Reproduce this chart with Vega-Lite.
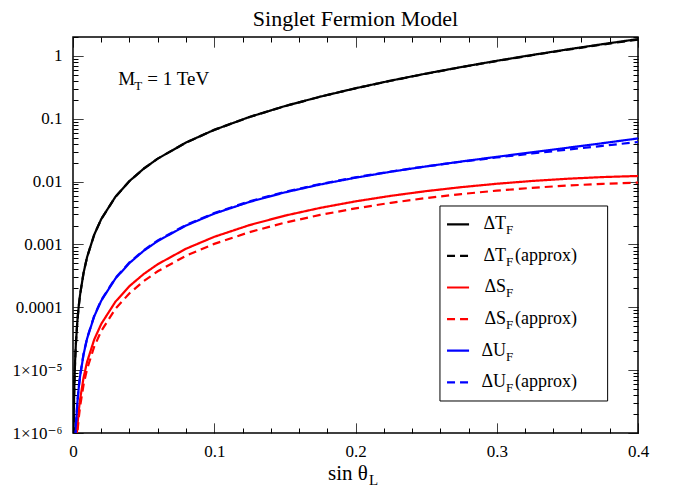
{
  "$schema": "https://vega.github.io/schema/vega-lite/v6.json",
  "width": 565,
  "height": 396,
  "autosize": {"type": "none"},
  "padding": {"left": 73, "top": 37, "right": 38, "bottom": 58},
  "background": "white",
  "config": {
    "font": "Liberation Serif, DejaVu Serif, serif",
    "view": {"stroke": "black", "strokeWidth": 1.5},
    "axis": {"domain": false, "grid": false, "tickColor": "black", "tickWidth": 1, "tickOpacity": 1, "labelColor": "black", "labelFont": "Liberation Serif, DejaVu Serif, serif", "labelFontSize": 17, "labelOverlap": false, "labelFlush": false, "labelBound": false},
    "text": {"font": "Liberation Serif, DejaVu Serif, serif", "color": "black"}
  },
  "datasets": {
    "curves": [
      {"s": 0.0003, "T": 5.7e-7, "Ta": 5.7e-7, "S": 1.22e-8, "Sa": 9.5e-9, "U": 2.87e-8, "Ua": 2.93e-8},
      {"s": 0.0006, "T": 2.28e-6, "Ta": 2.28e-6, "S": 4.9e-8, "Sa": 3.8e-8, "U": 1.15e-7, "Ua": 1.17e-7},
      {"s": 0.001, "T": 6.33e-6, "Ta": 6.33e-6, "S": 1.36e-7, "Sa": 1.05e-7, "U": 3.19e-7, "Ua": 3.26e-7},
      {"s": 0.0015, "T": 1.424e-5, "Ta": 1.424e-5, "S": 3.06e-7, "Sa": 2.36e-7, "U": 7.17e-7, "Ua": 7.33e-7},
      {"s": 0.002, "T": 2.53e-5, "Ta": 2.53e-5, "S": 5.44e-7, "Sa": 4.2e-7, "U": 1.274e-6, "Ua": 1.302e-6},
      {"s": 0.003, "T": 5.7e-5, "Ta": 5.7e-5, "S": 1.224e-6, "Sa": 9.45e-7, "U": 2.867e-6, "Ua": 2.93e-6},
      {"s": 0.004, "T": 1.013e-4, "Ta": 1.013e-4, "S": 2.176e-6, "Sa": 1.68e-6, "U": 5.1e-6, "Ua": 5.21e-6},
      {"s": 0.005, "T": 1.582e-4, "Ta": 1.582e-4, "S": 3.4e-6, "Sa": 2.625e-6, "U": 7.96e-6, "Ua": 8.14e-6},
      {"s": 0.0075, "T": 3.56e-4, "Ta": 3.56e-4, "S": 7.65e-6, "Sa": 5.9e-6, "U": 1.79e-5, "Ua": 1.83e-5},
      {"s": 0.01, "T": 6.33e-4, "Ta": 6.33e-4, "S": 1.36e-5, "Sa": 1.05e-5, "U": 3.185e-5, "Ua": 3.255e-5},
      {"s": 0.015, "T": 1.426e-3, "Ta": 1.426e-3, "S": 3.06e-5, "Sa": 2.36e-5, "U": 7.16e-5, "Ua": 7.32e-5},
      {"s": 0.02, "T": 2.536e-3, "Ta": 2.536e-3, "S": 5.44e-5, "Sa": 4.2e-5, "U": 1.274e-4, "Ua": 1.302e-4},
      {"s": 0.03, "T": 5.72e-3, "Ta": 5.72e-3, "S": 1.224e-4, "Sa": 9.45e-5, "U": 2.859e-4, "Ua": 2.923e-4},
      {"s": 0.04, "T": 0.01021, "Ta": 0.01021, "S": 2.176e-4, "Sa": 1.673e-4, "U": 5.071e-4, "Ua": 5.185e-4},
      {"s": 0.05, "T": 0.01603, "Ta": 0.01603, "S": 3.377e-4, "Sa": 2.607e-4, "U": 7.903e-4, "Ua": 8.08e-4},
      {"s": 0.06, "T": 0.02321, "Ta": 0.02321, "S": 4.85e-4, "Sa": 3.744e-4, "U": 1.134e-3, "Ua": 1.16e-3},
      {"s": 0.08, "T": 0.04185, "Ta": 0.04185, "S": 8.55e-4, "Sa": 6.605e-4, "U": 2.0e-3, "Ua": 2.045e-3},
      {"s": 0.1, "T": 0.06657, "Ta": 0.06657, "S": 1.323e-3, "Sa": 1.022e-3, "U": 3.093e-3, "Ua": 3.163e-3},
      {"s": 0.125, "T": 0.1069, "Ta": 0.1068, "S": 2.035e-3, "Sa": 1.572e-3, "U": 4.76e-3, "Ua": 4.865e-3},
      {"s": 0.15, "T": 0.159, "Ta": 0.1588, "S": 2.873e-3, "Sa": 2.221e-3, "U": 6.737e-3, "Ua": 6.878e-3},
      {"s": 0.175, "T": 0.2246, "Ta": 0.2241, "S": 3.819e-3, "Sa": 2.953e-3, "U": 9.0e-3, "Ua": 9.17e-3},
      {"s": 0.2, "T": 0.3057, "Ta": 0.3047, "S": 4.848e-3, "Sa": 3.752e-3, "U": 0.011537, "Ua": 0.011714},
      {"s": 0.225, "T": 0.4045, "Ta": 0.4028, "S": 5.938e-3, "Sa": 4.598e-3, "U": 0.014347, "Ua": 0.014487},
      {"s": 0.25, "T": 0.5238, "Ta": 0.521, "S": 7.056e-3, "Sa": 5.469e-3, "U": 0.017453, "Ua": 0.017483},
      {"s": 0.275, "T": 0.6664, "Ta": 0.662, "S": 8.167e-3, "Sa": 6.34e-3, "U": 0.020908, "Ua": 0.020709},
      {"s": 0.3, "T": 0.8356, "Ta": 0.829, "S": 9.243e-3, "Sa": 7.182e-3, "U": 0.024806, "Ua": 0.024198},
      {"s": 0.325, "T": 1.0349, "Ta": 1.025, "S": 0.010235, "Sa": 7.966e-3, "U": 0.029287, "Ua": 0.028016},
      {"s": 0.35, "T": 1.2679, "Ta": 1.253, "S": 0.01111, "Sa": 8.661e-3, "U": 0.034554, "Ua": 0.032267},
      {"s": 0.375, "T": 1.5395, "Ta": 1.518, "S": 0.01181, "Sa": 9.229e-3, "U": 0.040884, "Ua": 0.037098},
      {"s": 0.4, "T": 1.853, "Ta": 1.823, "S": 0.01229, "Sa": 9.632e-3, "U": 0.048638, "Ua": 0.042718}
    ],
    "legend": [
      {"key": "T", "main": "ΔT", "sub": "F", "suffix": "", "order": 0},
      {"key": "Ta", "main": "ΔT", "sub": "F", "suffix": "(approx)", "order": 1},
      {"key": "S", "main": "ΔS", "sub": "F", "suffix": "", "order": 2},
      {"key": "Sa", "main": "ΔS", "sub": "F", "suffix": "(approx)", "order": 3},
      {"key": "U", "main": "ΔU", "sub": "F", "suffix": "", "order": 4},
      {"key": "Ua", "main": "ΔU", "sub": "F", "suffix": "(approx)", "order": 5}
    ]
  },
  "layer": [
    {
      "data": {"name": "curves"},
      "transform": [{"fold": ["T"], "as": ["key", "v"]}],
      "mark": {"type": "line", "clip": true},
      "encoding": {
        "x": {"field": "s", "type": "quantitative", "scale": {"domain": [0, 0.4], "nice": false, "zero": false},
          "axis": {"orient": "bottom", "title": null, "labelOverlap": false, "labelFlush": false, "offset": -10, "ticks": true, "tickSize": 10,
            "values": [0, 0.02, 0.04, 0.06, 0.08, 0.1, 0.12, 0.14, 0.16, 0.18, 0.2, 0.22, 0.24, 0.26, 0.28, 0.3, 0.32, 0.34, 0.36, 0.38, 0.4],
            "labelExpr": "abs(datum.value*10 - round(datum.value*10)) < 1e-6 ? (datum.value == 0 ? '0' : format(datum.value, '.1f')) : ''",
            "tickDash": {"condition": {"test": "abs(datum.value*10 - round(datum.value*10)) < 1e-6", "value": [1, 0]}, "value": [0, 5, 5, 0]},
            "labelPadding": 10}},
        "y": {"field": "v", "type": "quantitative", "scale": {"type": "log", "domain": [0.000001, 2], "nice": false},
          "axis": {"orient": "left", "title": null, "labelOverlap": false, "ticks": false, "tickSize": 0,
            "values": [0.000001, 0.00001, 0.0001, 0.001, 0.01, 0.1, 1],
            "labelExpr": "datum.value == 1 ? '1  ' : datum.value == 0.1 ? '0.1' : datum.value == 0.01 ? '0.01' : datum.value == 0.001 ? '0.001' : datum.value == 0.0001 ? '0.0001' : datum.value == 0.00001 ? '1×10⁻⁵' : '1×10⁻⁶'",
            "labelPadding": 11}},
        "color": {"field": "key", "type": "nominal", "scale": {"domain": ["T", "Ta", "S", "Sa", "U", "Ua"], "range": ["#000000", "#000000", "#ff0000", "#ff0000", "#0000ff", "#0000ff"]}, "legend": null},
        "strokeDash": {"field": "key", "type": "nominal", "scale": {"domain": ["T", "Ta", "S", "Sa", "U", "Ua"], "range": [[1, 0], [8, 5], [1, 0], [8, 5], [1, 0], [8, 5]]}, "legend": null},
        "strokeWidth": {"field": "key", "type": "nominal", "scale": {"domain": ["T", "Ta", "S", "Sa", "U", "Ua"], "range": [2.2, 2.2, 1.5, 1.5, 2.2, 2.2]}, "legend": null}
      }
    },
    {
      "data": {"name": "curves"},
      "transform": [{"fold": ["S", "U"], "as": ["key", "v"]}],
      "mark": {"type": "line", "clip": true},
      "encoding": {
        "x": {"field": "s", "type": "quantitative", "scale": {"domain": [0, 0.4], "nice": false, "zero": false}, "axis": null},
        "y": {"field": "v", "type": "quantitative", "scale": {"type": "log", "domain": [0.000001, 2], "nice": false},
          "axis": {"orient": "right", "title": null, "labels": false, "offset": -565, "ticks": true, "tickSize": 10,
            "values": [0.000001, 0.000002, 0.000003, 0.000004, 0.000005, 0.000006, 0.000007, 0.000008, 0.000009, 0.00001, 0.00002, 0.00003, 0.00004, 0.00005, 0.00006, 0.00007, 0.00008, 0.00009, 0.0001, 0.0002, 0.0003, 0.0004, 0.0005, 0.0006, 0.0007, 0.0008, 0.0009, 0.001, 0.002, 0.003, 0.004, 0.005, 0.006, 0.007, 0.008, 0.009, 0.01, 0.02, 0.03, 0.04, 0.05, 0.06, 0.07, 0.08, 0.09, 0.1, 0.2, 0.3, 0.4, 0.5, 0.6, 0.7, 0.8, 0.9, 1, 2],
            "tickDash": {"condition": {"test": "abs(log(datum.value)/LN10 - round(log(datum.value)/LN10)) < 1e-6", "value": [1, 0]}, "value": [5, 100]}}},
        "color": {"field": "key", "type": "nominal", "legend": null},
        "strokeDash": {"field": "key", "type": "nominal", "legend": null},
        "strokeWidth": {"field": "key", "type": "nominal", "legend": null}
      }
    },
    {
      "data": {"name": "curves"},
      "transform": [{"fold": ["Ta", "Sa", "Ua"], "as": ["key", "v"]}],
      "mark": {"type": "line", "clip": true},
      "encoding": {
        "x": {"field": "s", "type": "quantitative", "scale": {"domain": [0, 0.4], "nice": false, "zero": false},
          "axis": {"orient": "bottom", "title": null, "labels": false, "offset": -396, "ticks": true, "tickSize": 10,
            "values": [0, 0.02, 0.04, 0.06, 0.08, 0.1, 0.12, 0.14, 0.16, 0.18, 0.2, 0.22, 0.24, 0.26, 0.28, 0.3, 0.32, 0.34, 0.36, 0.38, 0.4],
            "tickDash": {"condition": {"test": "abs(datum.value*10 - round(datum.value*10)) < 1e-6", "value": [1, 0]}, "value": [5, 100]}}},
        "y": {"field": "v", "type": "quantitative", "scale": {"type": "log", "domain": [0.000001, 2], "nice": false},
          "axis": {"orient": "right", "title": null, "labels": false, "offset": -10, "ticks": true, "tickSize": 10,
            "values": [0.000001, 0.000002, 0.000003, 0.000004, 0.000005, 0.000006, 0.000007, 0.000008, 0.000009, 0.00001, 0.00002, 0.00003, 0.00004, 0.00005, 0.00006, 0.00007, 0.00008, 0.00009, 0.0001, 0.0002, 0.0003, 0.0004, 0.0005, 0.0006, 0.0007, 0.0008, 0.0009, 0.001, 0.002, 0.003, 0.004, 0.005, 0.006, 0.007, 0.008, 0.009, 0.01, 0.02, 0.03, 0.04, 0.05, 0.06, 0.07, 0.08, 0.09, 0.1, 0.2, 0.3, 0.4, 0.5, 0.6, 0.7, 0.8, 0.9, 1, 2],
            "tickDash": {"condition": {"test": "abs(log(datum.value)/LN10 - round(log(datum.value)/LN10)) < 1e-6", "value": [1, 0]}, "value": [0, 5, 5, 0]}}},
        "color": {"field": "key", "type": "nominal", "legend": null},
        "strokeDash": {"field": "key", "type": "nominal", "legend": null},
        "strokeWidth": {"field": "key", "type": "nominal", "legend": null}
      }
    },
    {
      "layer": [
        {
          "data": {"values": [{"box": "legend"}]},
          "mark": {"type": "rect", "fill": "white", "stroke": "black", "strokeWidth": 1},
          "encoding": {
            "x": {"datum": 0.2598, "type": "quantitative", "scale": {"domain": [0, 0.4], "nice": false, "zero": false}, "axis": null},
            "x2": {"datum": 0.3785},
            "y": {"datum": -0.579, "type": "quantitative", "scale": {"domain": [-5.927, 6.605], "reverse": true, "nice": false, "zero": false}, "axis": null},
            "y2": {"datum": 5.592}
          }
        },
        {
          "data": {"name": "legend"},
          "mark": {"type": "rule"},
          "encoding": {
            "x": {"datum": 0.2648, "type": "quantitative"},
            "x2": {"datum": 0.2804},
            "y": {"field": "order", "type": "quantitative"},
            "color": {"field": "key", "type": "nominal", "legend": null},
            "strokeDash": {"field": "key", "type": "nominal", "legend": null},
            "strokeWidth": {"field": "key", "type": "nominal", "legend": null}
          }
        },
        {
          "data": {"name": "legend"},
          "mark": {"type": "text", "align": "right", "baseline": "middle", "fontSize": 18},
          "encoding": {"x": {"datum": 0.3066, "type": "quantitative"}, "y": {"field": "order", "type": "quantitative"}, "text": {"field": "main"}}
        },
        {
          "data": {"name": "legend"},
          "mark": {"type": "text", "align": "left", "baseline": "middle", "fontSize": 13, "dy": 6},
          "encoding": {"x": {"datum": 0.3066, "type": "quantitative"}, "y": {"field": "order", "type": "quantitative"}, "text": {"field": "sub"}}
        },
        {
          "data": {"name": "legend"},
          "mark": {"type": "text", "align": "left", "baseline": "middle", "fontSize": 18, "dx": 9},
          "encoding": {"x": {"datum": 0.3066, "type": "quantitative"}, "y": {"field": "order", "type": "quantitative"}, "text": {"field": "suffix"}}
        },
        {
          "data": {"values": [{"t": "Singlet Fermion Model"}]},
          "mark": {"type": "text", "align": "center", "baseline": "alphabetic", "fontSize": 22, "dy": -11},
          "encoding": {"x": {"datum": 0.2, "type": "quantitative"}, "y": {"datum": -5.927, "type": "quantitative"}, "text": {"field": "t"}}
        },
        {
          "data": {"values": [{"t": "M"}]},
          "mark": {"type": "text", "align": "left", "baseline": "alphabetic", "fontSize": 19},
          "encoding": {"x": {"datum": 0.0321, "type": "quantitative"}, "y": {"datum": -4.408, "type": "quantitative"}, "text": {"field": "t"}}
        },
        {
          "data": {"values": [{"t": "T"}]},
          "mark": {"type": "text", "align": "left", "baseline": "alphabetic", "fontSize": 13, "dx": 16, "dy": 5},
          "encoding": {"x": {"datum": 0.0321, "type": "quantitative"}, "y": {"datum": -4.408, "type": "quantitative"}, "text": {"field": "t"}}
        },
        {
          "data": {"values": [{"t": "= 1 TeV"}]},
          "mark": {"type": "text", "align": "left", "baseline": "alphabetic", "fontSize": 19, "dx": 29},
          "encoding": {"x": {"datum": 0.0321, "type": "quantitative"}, "y": {"datum": -4.408, "type": "quantitative"}, "text": {"field": "t"}}
        },
        {
          "data": {"values": [{"t": "sin θ"}]},
          "mark": {"type": "text", "align": "right", "baseline": "alphabetic", "fontSize": 21, "dy": 47},
          "encoding": {"x": {"datum": 0.2088, "type": "quantitative"}, "y": {"datum": 6.605, "type": "quantitative"}, "text": {"field": "t"}}
        },
        {
          "data": {"values": [{"t": "L"}]},
          "mark": {"type": "text", "align": "left", "baseline": "alphabetic", "fontSize": 15, "dx": 1, "dy": 52},
          "encoding": {"x": {"datum": 0.2088, "type": "quantitative"}, "y": {"datum": 6.605, "type": "quantitative"}, "text": {"field": "t"}}
        }
      ]
    }
  ],
  "resolve": {"scale": {"x": "independent", "y": "independent"}}
}
